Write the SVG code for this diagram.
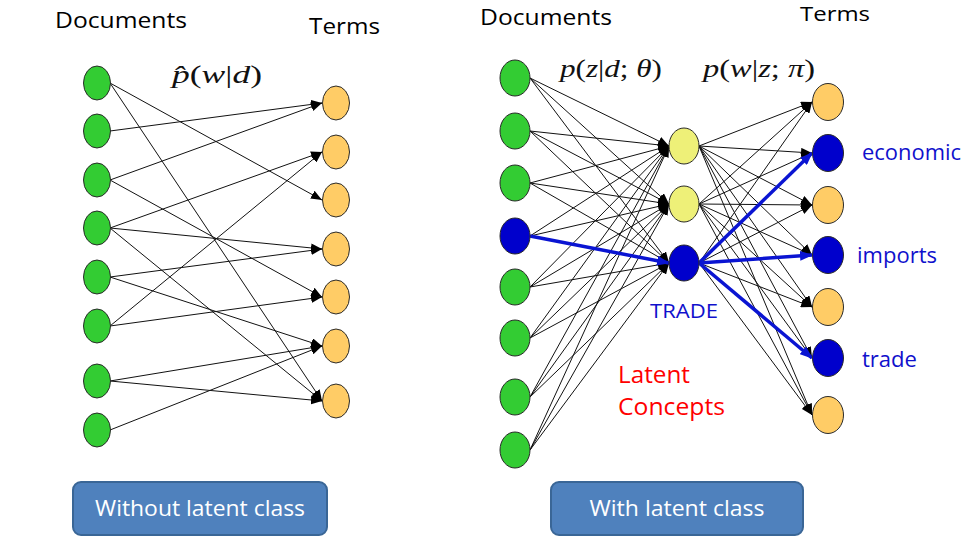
<svg xmlns="http://www.w3.org/2000/svg" width="963" height="538" viewBox="0 0 963 538">
<style>
.e{stroke:#111;stroke-width:1;fill:none;marker-end:url(#ah)}
.b{stroke:#0a14d2;stroke-width:3.5;fill:none;marker-end:url(#bh)}
.g{fill:#33cc33;stroke:#2a2a2a;stroke-width:1}
.o{fill:#ffcc66;stroke:#2a2a2a;stroke-width:1}
.y{fill:#eef078;stroke:#2a2a2a;stroke-width:1}
.n{fill:#0000cc;stroke:#2a2a2a;stroke-width:1}
.t{font-family:"Open Sans","Liberation Sans",sans-serif;fill:#000}
.m{font-family:"Liberation Serif","DejaVu Serif",serif;font-style:italic;fill:#111}
.bt{fill:#4f81bd;stroke:#3a6696;stroke-width:2}
.bl{font-family:"Open Sans","Liberation Sans",sans-serif;fill:#fff;font-size:21px;text-anchor:middle}
</style>
<defs>
<marker id="ah" markerUnits="userSpaceOnUse" markerWidth="11" markerHeight="9" refX="11" refY="4.5" orient="auto"><path d="M0,0 L11,4.5 L0,9 z" fill="#000"/></marker>
<marker id="bh" markerUnits="userSpaceOnUse" markerWidth="13" markerHeight="10" refX="12" refY="5" orient="auto"><path d="M0,0 L13,5 L0,10 z" fill="#0a14d2"/></marker>
</defs>
<rect width="963" height="538" fill="#fff"/>

<g id="connectors">
<line class="e" x1="110" y1="83" x2="322" y2="200"/>
<line class="e" x1="110" y1="83" x2="322" y2="401"/>
<line class="e" x1="110" y1="131" x2="322" y2="103"/>
<line class="e" x1="110" y1="180" x2="322" y2="103"/>
<line class="e" x1="110" y1="180" x2="322" y2="297"/>
<line class="e" x1="110" y1="228" x2="322" y2="152"/>
<line class="e" x1="110" y1="228" x2="322" y2="249"/>
<line class="e" x1="110" y1="228" x2="322" y2="401"/>
<line class="e" x1="110" y1="277" x2="322" y2="249"/>
<line class="e" x1="110" y1="277" x2="322" y2="346"/>
<line class="e" x1="110" y1="326" x2="322" y2="152"/>
<line class="e" x1="110" y1="326" x2="322" y2="297"/>
<line class="e" x1="110" y1="381" x2="322" y2="346"/>
<line class="e" x1="110" y1="381" x2="322" y2="401"/>
<line class="e" x1="110" y1="430" x2="322" y2="346"/>

<line class="e" x1="530" y1="78" x2="669" y2="146"/>
<line class="e" x1="530" y1="78" x2="669" y2="204"/>
<line class="e" x1="530" y1="78" x2="669" y2="263"/>
<line class="e" x1="530" y1="131" x2="669" y2="146"/>
<line class="e" x1="530" y1="131" x2="669" y2="204"/>
<line class="e" x1="530" y1="131" x2="669" y2="263"/>
<line class="e" x1="530" y1="183" x2="669" y2="146"/>
<line class="e" x1="530" y1="183" x2="669" y2="204"/>
<line class="e" x1="530" y1="183" x2="669" y2="263"/>
<line class="e" x1="530" y1="236" x2="669" y2="146"/>
<line class="e" x1="530" y1="236" x2="669" y2="204"/>
<line class="e" x1="530" y1="287" x2="669" y2="146"/>
<line class="e" x1="530" y1="287" x2="669" y2="204"/>
<line class="e" x1="530" y1="287" x2="669" y2="263"/>
<line class="e" x1="530" y1="338" x2="669" y2="146"/>
<line class="e" x1="530" y1="338" x2="669" y2="204"/>
<line class="e" x1="530" y1="338" x2="669" y2="263"/>
<line class="e" x1="530" y1="397" x2="669" y2="146"/>
<line class="e" x1="530" y1="397" x2="669" y2="204"/>
<line class="e" x1="530" y1="397" x2="669" y2="263"/>
<line class="e" x1="530" y1="450" x2="669" y2="146"/>
<line class="e" x1="530" y1="450" x2="669" y2="204"/>
<line class="e" x1="530" y1="450" x2="669" y2="263"/>

<line class="e" x1="699" y1="146" x2="812" y2="102"/>
<line class="e" x1="699" y1="146" x2="812" y2="153"/>
<line class="e" x1="699" y1="146" x2="812" y2="205"/>
<line class="e" x1="699" y1="146" x2="812" y2="255"/>
<line class="e" x1="699" y1="146" x2="812" y2="307"/>
<line class="e" x1="699" y1="146" x2="812" y2="358"/>
<line class="e" x1="699" y1="146" x2="812" y2="415"/>
<line class="e" x1="699" y1="204" x2="812" y2="102"/>
<line class="e" x1="699" y1="204" x2="812" y2="153"/>
<line class="e" x1="699" y1="204" x2="812" y2="205"/>
<line class="e" x1="699" y1="204" x2="812" y2="255"/>
<line class="e" x1="699" y1="204" x2="812" y2="307"/>
<line class="e" x1="699" y1="204" x2="812" y2="358"/>
<line class="e" x1="699" y1="204" x2="812" y2="415"/>
<line class="e" x1="699" y1="263" x2="812" y2="102"/>
<line class="e" x1="699" y1="263" x2="812" y2="205"/>
<line class="e" x1="699" y1="263" x2="812" y2="307"/>
<line class="e" x1="699" y1="263" x2="812" y2="415"/>

<line class="b" x1="530" y1="236" x2="669" y2="263"/>
<line class="b" x1="699" y1="263" x2="812" y2="153"/>
<line class="b" x1="699" y1="263" x2="812" y2="255"/>
<line class="b" x1="699" y1="263" x2="812" y2="358"/>
</g>

<g id="left-docs">
<ellipse id="ld1" class="g" cx="97" cy="83" rx="13.5" ry="17"/>
<ellipse id="ld2" class="g" cx="97" cy="131" rx="13.5" ry="17"/>
<ellipse id="ld3" class="g" cx="97" cy="180" rx="13.5" ry="17"/>
<ellipse id="ld4" class="g" cx="97" cy="228" rx="13.5" ry="17"/>
<ellipse id="ld5" class="g" cx="97" cy="277" rx="13.5" ry="17"/>
<ellipse id="ld6" class="g" cx="97" cy="326" rx="13.5" ry="17"/>
<ellipse id="ld7" class="g" cx="97" cy="381" rx="13.5" ry="17"/>
<ellipse id="ld8" class="g" cx="97" cy="430" rx="13.5" ry="17"/>
</g>
<g id="left-terms">
<ellipse id="lt1" class="o" cx="336" cy="103" rx="13.5" ry="17"/>
<ellipse id="lt2" class="o" cx="336" cy="152" rx="13.5" ry="17"/>
<ellipse id="lt3" class="o" cx="336" cy="200" rx="13.5" ry="17"/>
<ellipse id="lt4" class="o" cx="336" cy="249" rx="13.5" ry="17"/>
<ellipse id="lt5" class="o" cx="336" cy="297" rx="13.5" ry="17"/>
<ellipse id="lt6" class="o" cx="336" cy="346" rx="13.5" ry="17"/>
<ellipse id="lt7" class="o" cx="336" cy="401" rx="13.5" ry="17"/>
</g>

<g id="right-docs">
<ellipse id="rd1" class="g" cx="515" cy="78" rx="15" ry="18"/>
<ellipse id="rd2" class="g" cx="515" cy="131" rx="15" ry="18"/>
<ellipse id="rd3" class="g" cx="515" cy="183" rx="15" ry="18"/>
<ellipse id="rd4" class="n" cx="515" cy="236" rx="15" ry="18"/>
<ellipse id="rd5" class="g" cx="515" cy="287" rx="15" ry="18"/>
<ellipse id="rd6" class="g" cx="515" cy="338" rx="15" ry="18"/>
<ellipse id="rd7" class="g" cx="515" cy="397" rx="15" ry="18"/>
<ellipse id="rd8" class="g" cx="515" cy="450" rx="15" ry="18"/>
</g>
<g id="latent">
<ellipse id="z1" class="y" cx="684" cy="146" rx="15" ry="18"/>
<ellipse id="z2" class="y" cx="684" cy="204" rx="15" ry="18"/>
<ellipse id="z3" class="n" cx="684" cy="263" rx="15" ry="18"/>
</g>
<g id="right-terms">
<ellipse id="rt1" class="o" cx="828" cy="102" rx="15.5" ry="18.5"/>
<ellipse id="rt2" class="n" cx="828" cy="153" rx="15.5" ry="18.5"/>
<ellipse id="rt3" class="o" cx="828" cy="205" rx="15.5" ry="18.5"/>
<ellipse id="rt4" class="n" cx="828" cy="255" rx="15.5" ry="18.5"/>
<ellipse id="rt5" class="o" cx="828" cy="307" rx="15.5" ry="18.5"/>
<ellipse id="rt6" class="n" cx="828" cy="358" rx="15.5" ry="18.5"/>
<ellipse id="rt7" class="o" cx="828" cy="415" rx="15.5" ry="18.5"/>
</g>

<g id="labels">
<text class="t" x="55" y="28" font-size="21" textLength="132" lengthAdjust="spacingAndGlyphs">Documents</text>
<text class="t" x="309" y="34" font-size="21" textLength="71" lengthAdjust="spacingAndGlyphs">Terms</text>
<text class="t" x="480" y="25" font-size="21" textLength="132" lengthAdjust="spacingAndGlyphs">Documents</text>
<text class="t" x="800" y="21" font-size="20" textLength="70" lengthAdjust="spacingAndGlyphs">Terms</text>
<text class="m" x="172" y="83" font-size="26" textLength="90" lengthAdjust="spacingAndGlyphs">p̂<tspan font-style="normal">(</tspan>w<tspan font-style="normal">|</tspan>d<tspan font-style="normal">)</tspan></text>
<text class="m" x="560" y="77" font-size="26" textLength="102" lengthAdjust="spacingAndGlyphs">p<tspan font-style="normal">(</tspan>z<tspan font-style="normal">|</tspan>d<tspan font-style="normal">;</tspan> θ<tspan font-style="normal">)</tspan></text>
<text class="m" x="703" y="77" font-size="26" textLength="112" lengthAdjust="spacingAndGlyphs">p<tspan font-style="normal">(</tspan>w<tspan font-style="normal">|</tspan>z<tspan font-style="normal">;</tspan> π<tspan font-style="normal">)</tspan></text>
<text class="t" x="650" y="318" font-size="20" style="fill:#1010cc" textLength="68" lengthAdjust="spacingAndGlyphs">TRADE</text>
<text class="t" x="618" y="383" font-size="24" style="fill:#ff0000" textLength="72" lengthAdjust="spacingAndGlyphs">Latent</text>
<text class="t" x="618" y="415" font-size="24" style="fill:#ff0000" textLength="107" lengthAdjust="spacingAndGlyphs">Concepts</text>
<text class="t" x="862" y="160" font-size="21" style="fill:#1010cc" textLength="99" lengthAdjust="spacingAndGlyphs">economic</text>
<text class="t" x="857" y="263" font-size="21" style="fill:#1010cc" textLength="80" lengthAdjust="spacingAndGlyphs">imports</text>
<text class="t" x="862" y="367" font-size="21" style="fill:#1010cc" textLength="55" lengthAdjust="spacingAndGlyphs">trade</text>
</g>

<g id="btn-left">
<rect class="bt" x="73" y="482" width="254" height="53" rx="8"/>
<text class="bl" x="200" y="516" textLength="210" lengthAdjust="spacingAndGlyphs">Without latent class</text>
</g>
<g id="btn-right">
<rect class="bt" x="551" y="482" width="252" height="53" rx="8"/>
<text class="bl" x="677" y="516" textLength="175" lengthAdjust="spacingAndGlyphs">With latent class</text>
</g>
</svg>
